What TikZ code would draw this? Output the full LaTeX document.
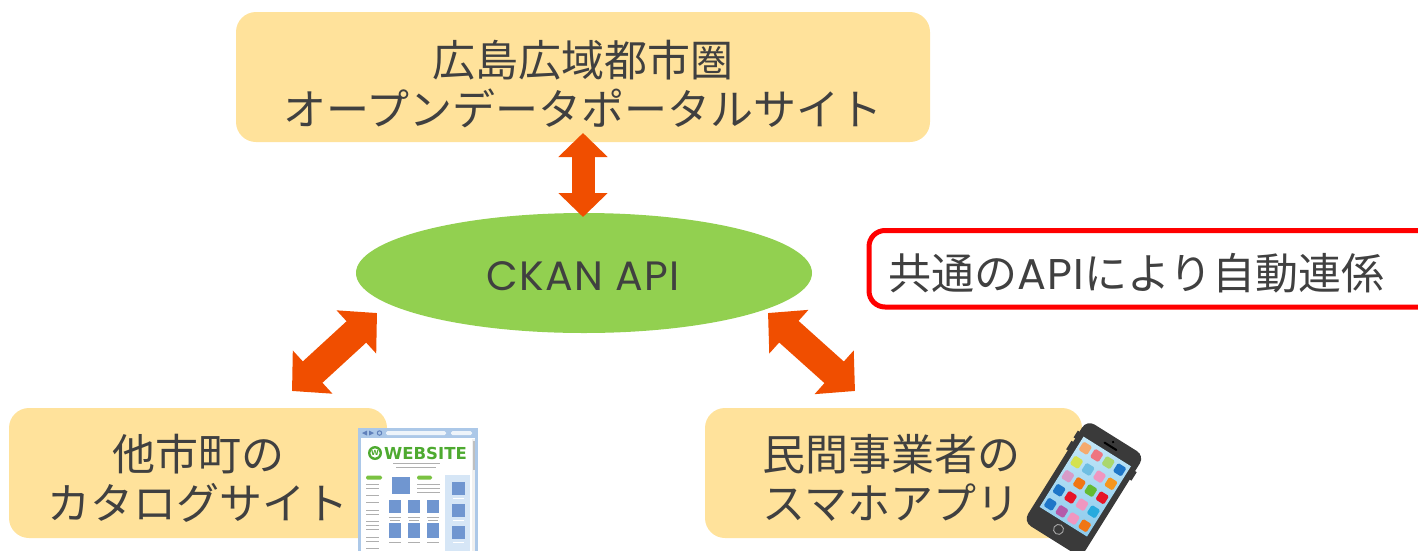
\documentclass[tikz,border=0pt]{standalone}
\usepackage{fontspec}
\newfontfamily\jp{Noto Sans CJK JP}
\newfontfamily\latin[LetterSpace=3]{Poppins}
\newfontfamily\logofont{DejaVu Sans}
\usetikzlibrary{arrows.meta,shapes.geometric}

\definecolor{boxfill}{RGB}{255,226,155}
\definecolor{apigreen}{RGB}{146,208,80}
\definecolor{arroworange}{RGB}{240,78,0}
\definecolor{ink}{RGB}{64,64,64}
\definecolor{alertred}{RGB}{255,0,0}
% browser clip art
\definecolor{webframe}{RGB}{172,200,232}
\definecolor{webicon}{RGB}{96,128,186}
\definecolor{websquare}{RGB}{112,150,208}
\definecolor{webside}{RGB}{214,230,246}
\definecolor{weblogo}{RGB}{78,170,48}
\definecolor{webpill}{RGB}{122,194,66}
\definecolor{webtext}{RGB}{175,175,175}
% phone clip art
\definecolor{phonebody}{RGB}{58,58,58}
\definecolor{scrtop}{RGB}{196,232,249}
\definecolor{scrbot}{RGB}{140,202,236}
\definecolor{appA}{RGB}{245,170,110}
\definecolor{appB}{RGB}{238,118,128}
\definecolor{appC}{RGB}{170,215,110}
\definecolor{appD}{RGB}{30,118,200}
\definecolor{appE}{RGB}{212,226,80}
\definecolor{appF}{RGB}{110,190,226}
\definecolor{appG}{RGB}{240,150,192}
\definecolor{appH}{RGB}{245,150,30}
\definecolor{appI}{RGB}{215,155,200}
\definecolor{appJ}{RGB}{240,118,20}
\definecolor{appK}{RGB}{100,186,50}
\definecolor{appL}{RGB}{230,20,40}
\definecolor{appM}{RGB}{40,170,222}
\definecolor{appN}{RGB}{180,90,170}

\begin{document}
\begin{tikzpicture}[x=1pt,y=-1pt,
  box/.style={fill=boxfill, rounded corners=20pt, inner sep=0pt},
  boxtext/.style={font=\jp\fontsize{43}{49}\selectfont, text=ink, align=center, inner sep=0pt},
  biarrow/.style n args={3}{draw=arroworange, line width=#1,
    arrows={Triangle[width=#2,length=#3]-Triangle[width=#2,length=#3]}},
  greyline/.style={draw=webtext, line width=1pt},
  ]
\clip (0,0) rectangle (1418,550);

% ---- boxes and the API ellipse ----
\node[box, minimum width=694pt, minimum height=130pt] (top) at (583,77) {};
\node[boxtext] (toptext) at (583,84) {広島広域都市圏\\オープンデータポータルサイト};

\node[ellipse, fill=apigreen, inner sep=0pt, minimum width=456pt, minimum height=120pt] (api) at (584,273) {};
\node[font=\latin\fontsize{41}{41}\selectfont, text=ink, inner sep=0pt] (apitext) at (583,276.5) {CKAN API};

\node[box, minimum width=378pt, minimum height=130pt] (left) at (198,473) {};
\node[boxtext] (lefttext) at (198,478) {他市町の\\カタログサイト};

\node[box, minimum width=377pt, minimum height=130pt] (right) at (893.5,473) {};
\node[boxtext] (righttext) at (891,478) {民間事業者の\\スマホアプリ};

\node[draw=alertred, line width=5pt, rounded corners=16pt, inner sep=0pt,
      minimum width=600pt, minimum height=76.5pt, anchor=west] (note) at (866.5,268.75) {};
\node[font=\jp\fontsize{43}{43}\selectfont, text=ink, inner sep=0pt, anchor=west] (notetext) at (888,273.5) {共通の{\latin API}により自動連係};

% ---- double arrows ----
\coordinate (v1) at (583,133);
\coordinate (v2) at (583,217);
\coordinate (l1) at (377,313);
\coordinate (l2) at (292,391);
\coordinate (r1) at (768,313);
\coordinate (r2) at (855,391);
\draw[biarrow={23pt}{48pt}{24pt}] (v1) -- (v2);
\draw[biarrow={29pt}{57pt}{28pt}] (l1) -- (l2);
\draw[biarrow={29pt}{57pt}{28pt}] (r1) -- (r2);

% ---- browser window ----
\begin{scope}[shift={(358,428)}]
  \fill[webframe] (0,0) rectangle (120,130);
  \fill[white] (3,10) rectangle (117,130);
  \fill[webicon] (4,5) -- (9,2.5) -- (9,7.5) -- cycle;
  \fill[webicon] (16,5) -- (11,2.5) -- (11,7.5) -- cycle;
  \draw[webicon, line width=1pt] (21.5,5) circle (2.2);
  \fill[white!80!webframe, rounded corners=1.5pt] (28,3) rectangle (88,7);
  \fill[white!80!webframe, rounded corners=1.5pt] (93,3) rectangle (114,7);
  \fill[gray!12] (114,11) rectangle (117,130);
  \fill[gray!50] (114.5,13) rectangle (116.5,42);
  % logo
  \fill[weblogo] (17,25) circle (7);
  \fill[white] (17,25) circle (4.6);
  \node[font=\logofont\bfseries\fontsize{7}{7}\selectfont, text=weblogo, inner sep=0pt] (logow) at (17,25.3) {W};
  \node[font=\logofont\bfseries\fontsize{16.5}{16.5}\selectfont, text=weblogo, inner sep=0pt, anchor=west] (logotext) at (26,25) {WEBSITE};
  \draw[greyline] (35,35) -- (82,35);
  \draw[greyline] (38,39) -- (78,39);
  % left column
  \fill[webpill, rounded corners=1.5pt] (8,47.5) rectangle (24,51.5);
  \foreach \yy in {56,60,67,74,82,86,93,97,101,109,113,120,124}
    \draw[greyline] (8,\yy) -- (21,\yy);
  % main column
  \fill[websquare] (34,49) rectangle (52,66);
  \fill[webpill, rounded corners=1.5pt] (59,47.5) rectangle (74,51.5);
  \foreach \yy in {56,60,64}
    \draw[greyline] (59,\yy) -- (82,\yy);
  \foreach \xx in {31,50,69} {
    \fill[websquare] (\xx,72) rectangle (\xx+12,85);
    \fill[websquare] (\xx,95) rectangle (\xx+12,110);
    \draw[greyline] (\xx,89) -- (\xx+12,89);
    \draw[greyline] (\xx+1,92) -- (\xx+11,92);
    \draw[greyline] (\xx,114) -- (\xx+12,114);
  }
  % side column
  \fill[webside] (87,47) rectangle (112,130);
  \foreach \yy in {54,76,98} {
    \fill[websquare] (94,\yy) rectangle (107,\yy+13);
    \draw[draw=white, line width=1pt] (95,\yy+16.5) -- (106,\yy+16.5);
  }
\end{scope}

% ---- smartphone ----
\begin{scope}[shift={(1085,487)}, rotate=-32]
  \fill[phonebody] (-36,-44) rectangle (-32,-36);
  \fill[phonebody] (-36,-32) rectangle (-32,-22);
  \fill[phonebody] (32,-40) rectangle (36,-30);
  \fill[phonebody, rounded corners=9pt] (-34,-58) rectangle (34,62);
  \fill[top color=scrtop, bottom color=scrbot] (-28,-42) rectangle (28,41);
  \fill[black, rounded corners=1pt] (-8,-49) rectangle (8,-47);
  \fill[black] (0,-53) circle (1.3);
  \draw[gray!70, line width=0.9pt] (0,50) circle (5);
  \foreach \c [count=\i from 0] in {appA,appB,appC,appD,
                                   appE,appF,appG,appH,
                                   appI,appJ,appK,appL,
                                   appD,appL,appG,appM,
                                   appD,appN,appG,appJ} {
    \pgfmathsetmacro\cx{-20.25+13.5*mod(\i,4)}
    \pgfmathsetmacro\cy{-33+16.5*floor(\i/4)}
    \fill[\c, rounded corners=1.5pt] (\cx-5,\cy-5) rectangle (\cx+5,\cy+5);
  }
\end{scope}
\end{tikzpicture}
\end{document}
